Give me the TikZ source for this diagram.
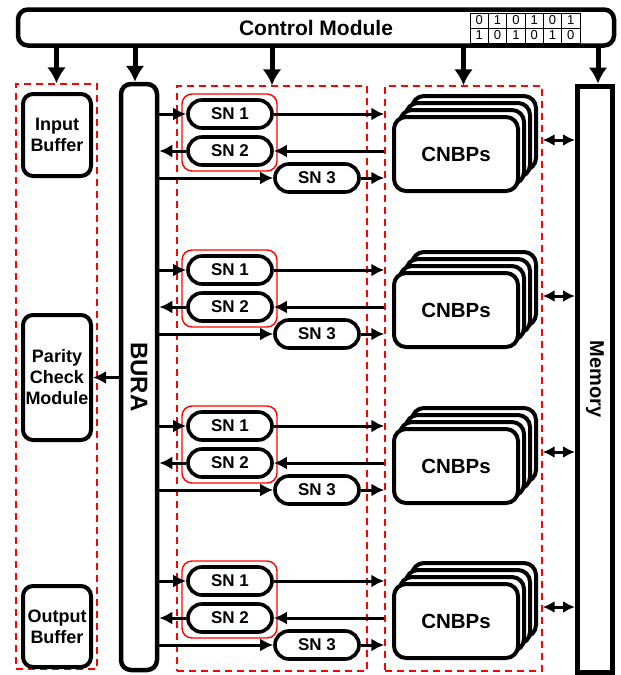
\documentclass[tikz,border=0pt]{standalone}
\usepackage{fontspec}
\setmainfont{Liberation Sans}
\usetikzlibrary{arrows.meta}
\begin{document}
\begin{tikzpicture}[x=1pt,y=-1pt,
  box/.style={draw, line width=4pt, rounded corners=10pt, fill=white, inner sep=0pt,
    font=\bfseries\fontsize{18}{21}\selectfont, align=center},
  dbox/.style={draw=red, line width=1.4pt, dash pattern=on 7pt off 5pt, inner sep=0pt},
  snbox/.style={draw, line width=3.6pt, rounded corners=13.9pt, fill=white,
    minimum width=84pt, minimum height=28pt, inner sep=0pt,
    font=\bfseries\fontsize{17}{17}\selectfont},
  redbox/.style={draw=red, line width=1.4pt, rounded corners=10pt, inner sep=0pt},
  cn/.style={draw, line width=4pt, rounded corners=12pt, fill=white,
    minimum width=124pt, minimum height=74pt, inner sep=0pt,
    font=\bfseries\fontsize{20.5}{20.5}\selectfont},
  bit/.style={draw, line width=0.9pt, minimum width=18.33pt, minimum height=15pt,
    inner sep=0pt, font=\fontsize{13}{13}\selectfont},
  arr/.style={line width=3pt, -{Latex[length=13pt,width=13pt]}},
  bigarr/.style={line width=5pt, -{Latex[length=16pt,width=19pt]}},
  darr/.style={line width=3pt, {Latex[length=12pt,width=12pt]}-{Latex[length=12pt,width=12pt]}}
]
\useasboundingbox (0,0) rectangle (621,675);

% control module
\node[box, line width=4.5pt, minimum width=596pt, minimum height=36pt,
  font=\bfseries\fontsize{21}{21}\selectfont] (ctrl) at (316,27.5) {Control Module};
\foreach \c/\a/\b [count=\i] in {0/0/1,1/1/0,2/0/1,3/1/0,4/0/1,5/1/0}{
  \node[bit] (u\i) at ({479.2+18.33*\c},20.5) {\a};
  \node[bit] (d\i) at ({479.2+18.33*\c},35.5) {\b};
}

% dashed regions
\node[dbox, minimum width=81pt, minimum height=585pt] (lbox) at (56.5,376.5) {};
\node[dbox, minimum width=190pt, minimum height=585pt] (mbox) at (272,378.5) {};
\node[dbox, minimum width=157pt, minimum height=585pt] (rbox) at (463.5,378.5) {};

% left blocks
\node[box, minimum width=68pt, minimum height=82pt] (inb) at (57,135) {Input\\Buffer};
\node[box, minimum width=68pt, minimum height=125pt] (pcm) at (57,377.5) {Parity\\Check\\Module};
\node[box, minimum width=68pt, minimum height=81pt] (outb) at (57,626.5) {Output\\Buffer};

% BURA and memory
\node[box, line width=4.5pt, minimum width=36pt, minimum height=586pt] (bura) at (139,377) {};
\node[rotate=-90, font=\bfseries\fontsize{24}{24}\selectfont] (buratxt) at (bura.center) {BURA};
\node[draw, line width=5pt, fill=white, minimum width=35pt, minimum height=586pt, inner sep=0pt] (mem) at (595,379) {};
\node[rotate=-90, font=\bfseries\fontsize{20}{20}\selectfont] (memtxt) at (mem.center) {Memory};

% control arrows
\coordinate (tb) at (135,0);
\coordinate (tm) at (598,0);
\draw[bigarr] (ctrl.south -| lbox.north) -- (lbox.north);
\draw[bigarr] (ctrl.south -| tb) -- (bura.north -| tb);
\draw[bigarr] (ctrl.south -| mbox.north) -- (mbox.north);
\draw[bigarr] (ctrl.south -| rbox.north) -- (rbox.north);
\draw[bigarr] (ctrl.south -| tm) -- (mem.north -| tm);

% BURA to parity
\draw[arr] (bura.west |- pcm.east) -- (pcm.east);

% groups
\foreach \k/\dy in {1/0,2/156,3/312,4/467}{
  \node[redbox, minimum width=95pt, minimum height=77pt] (rb\k) at (229.5,132.5+\dy) {};
  \node[snbox] (sa\k) at (230,114+\dy) {SN 1};
  \node[snbox] (sb\k) at (230,151+\dy) {SN 2};
  \node[snbox] (sc\k) at (317,178+\dy) {SN 3};
  \node[cn] (cx\k) at (474,133+\dy) {};
  \node[cn] (cy\k) at (468,140+\dy) {};
  \node[cn] (cz\k) at (462,147+\dy) {};
  \node[cn] (cf\k) at (456,154+\dy) {CNBPs};
  \coordinate (m\k) at (560,140+\dy);
  \draw[arr] (sa\k.west -| bura.east) -- (sa\k.west);
  \draw[arr] (sa\k.east) -- (sa\k.east -| rbox.west);
  \draw[arr] (sb\k.east -| rbox.west) -- (sb\k.east);
  \draw[arr] (sb\k.west) -- (sb\k.west -| bura.east);
  \draw[arr] (sc\k.west -| bura.east) -- (sc\k.west);
  \draw[arr] (sc\k.east) -- (sc\k.east -| rbox.west);
  \draw[darr] (rbox.east |- m\k) -- (mem.west |- m\k);
}
\end{tikzpicture}
\end{document}
